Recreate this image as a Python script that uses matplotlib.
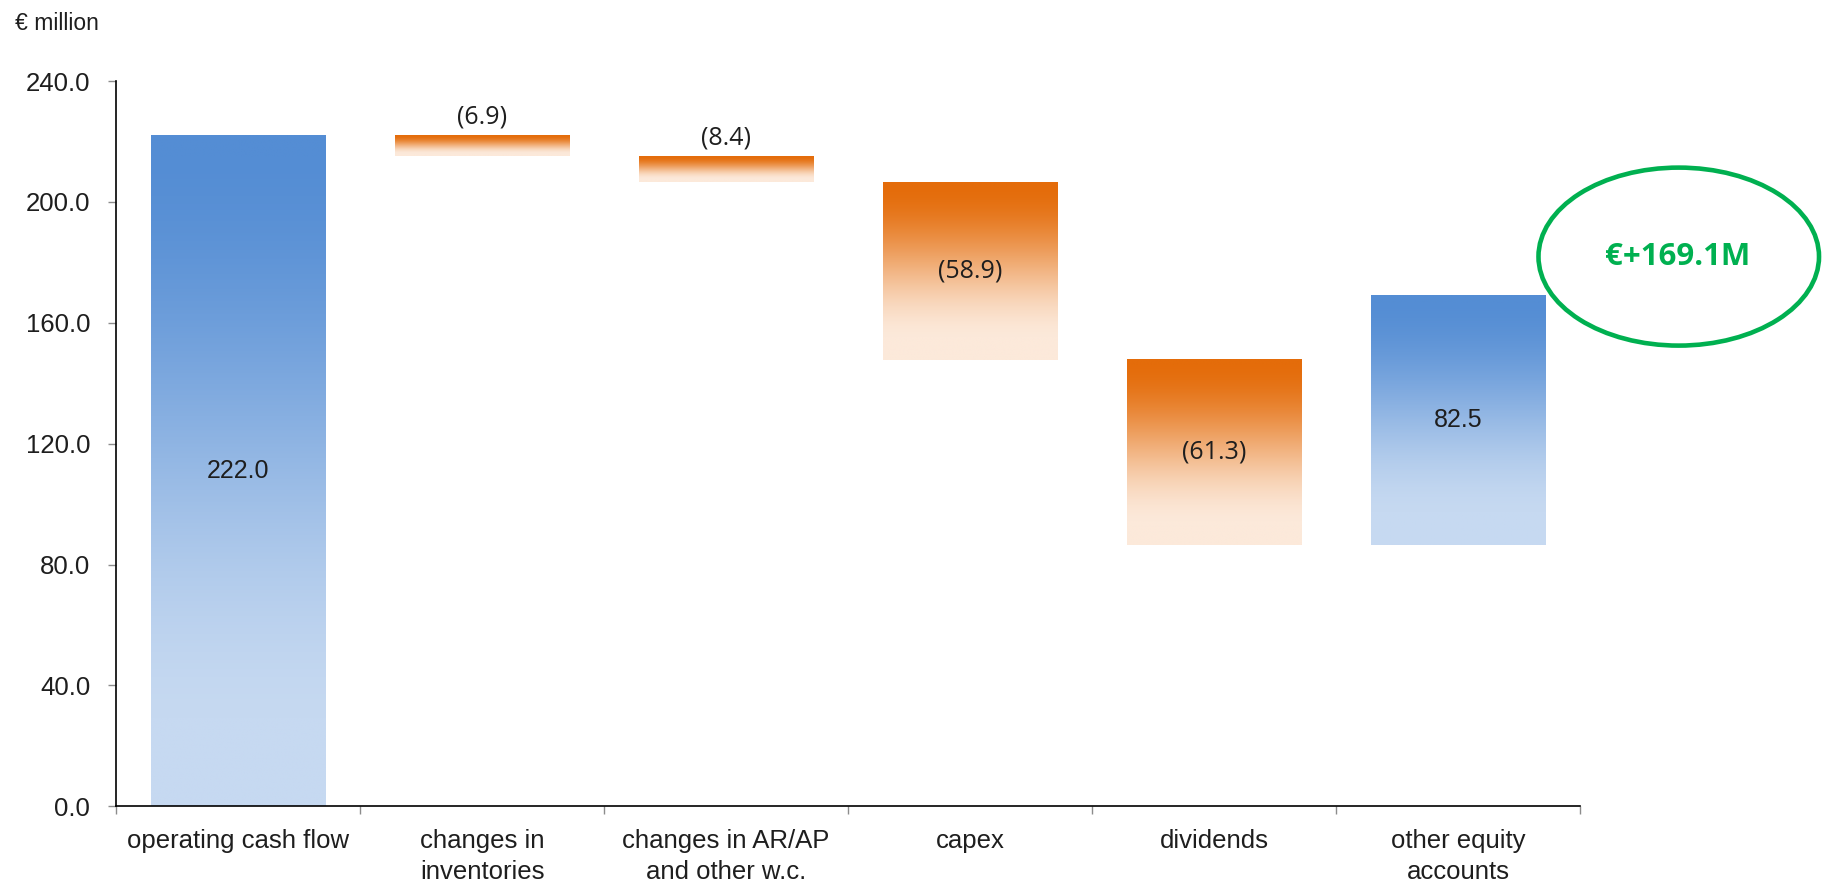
import numpy as np
import matplotlib
matplotlib.use("Agg")
import matplotlib.pyplot as plt
from matplotlib.colors import LinearSegmentedColormap
from matplotlib.patches import Ellipse

# cash flow bridge, € million
categories = [
    "operating cash flow",
    "changes in\ninventories",
    "changes in AR/AP\nand other w.c.",
    "capex",
    "dividends",
    "other equity\naccounts",
]
changes = [222.0, -6.9, -8.4, -58.9, -61.3, 82.5]
value_labels = ["222.0", "(6.9)", "(8.4)", "(58.9)", "(61.3)", "82.5"]
y_ticks = [0, 40, 80, 120, 160, 200, 240]
net_label = "€+169.1M"

AXIS_FONT = "Liberation Sans"
LABEL_FONT = "Open Sans"
TEXT_COLOR = "#1e1e1e"

blue_cmap = LinearSegmentedColormap.from_list("blue_grad", ["#c6d9f1", "#548dd4"])
orange_cmap = LinearSegmentedColormap.from_list("orange_grad", ["#fce9da", "#e46c0a"])


def gradient_column(n=256, stop=0.9):
    # smooth fade from dark (top) to light, reaching the light colour near the bottom
    frac = np.linspace(0, 1, n)
    t = np.clip(frac / stop, 0, 1)
    s = t * t * (3 - 2 * t)
    return (1 - s)[:, None]


def main():
    fig = plt.figure(figsize=(18.33, 8.86), dpi=100)
    ax = fig.add_axes([0.06345, 0.08995, 0.7985, 0.8186])

    # waterfall geometry: each bar spans from running total before to after
    ends = np.cumsum(changes)
    starts = ends - np.array(changes)
    bottoms = np.minimum(starts, ends)
    heights = np.abs(changes)
    x = np.arange(len(categories))

    bars = ax.bar(x, heights, bottom=bottoms, width=0.716, color="none", edgecolor="none")

    grad = gradient_column()
    for i, rect in enumerate(bars):
        # inflows -> blue, outflows -> orange
        inflow = changes[i] > 0
        cmap = blue_cmap if inflow else orange_cmap
        font = AXIS_FONT if inflow else LABEL_FONT
        x0 = rect.get_x()
        x1 = x0 + rect.get_width()
        y0 = rect.get_y()
        y1 = y0 + rect.get_height()
        ax.imshow(grad, cmap=cmap, extent=[x0, x1, y0, y1], aspect="auto",
                  interpolation="bilinear", vmin=0, vmax=1, zorder=2)

        if rect.get_height() < 15:
            ax.annotate(value_labels[i], (x0 + rect.get_width() / 2, y1),
                        xytext=(0, 4), textcoords="offset points",
                        ha="center", va="bottom", fontsize=18,
                        family=font, color=TEXT_COLOR, zorder=3)
        else:
            ax.text(x0 + rect.get_width() / 2, y0 + rect.get_height() / 2,
                    value_labels[i], ha="center", va="center", fontsize=18,
                    family=font, color=TEXT_COLOR, zorder=3)

    ax.set_xlim(-0.5, len(categories) - 0.5)
    ax.set_ylim(0, 240)

    ax.spines["top"].set_visible(False)
    ax.spines["right"].set_visible(False)
    ax.spines["left"].set_linewidth(1.2)
    ax.spines["bottom"].set_linewidth(1.2)

    ax.set_yticks(y_ticks)
    ax.set_yticklabels([f"{v:.1f}" for v in y_ticks], family=AXIS_FONT, fontsize=18.5,
                       color=TEXT_COLOR)
    ax.tick_params(axis="y", length=5.8, width=1, color="#8c8c8c", pad=13)

    ax.set_xticks(x)
    ax.set_xticklabels(categories, family=AXIS_FONT, fontsize=18.5, color=TEXT_COLOR,
                       linespacing=1.4)
    ax.set_xticks(np.arange(-0.5, len(categories), 1), minor=True)
    ax.tick_params(axis="x", which="major", length=0, pad=16)
    ax.tick_params(axis="x", which="minor", length=5.8, width=1, color="#8c8c8c")

    fig.text(15 / 1833, 1 - 30 / 886, "€ million", family=AXIS_FONT, fontsize=16.5,
             color=TEXT_COLOR, ha="left", va="baseline")

    # highlight for the net cash generated
    ell = Ellipse((5.905, 181.9), width=1.15, height=58.9, fill=False,
                  edgecolor="#00b050", linewidth=3.3, clip_on=False, zorder=4)
    ax.add_patch(ell)
    ax.text(5.9, 181.9, net_label, ha="center", va="center", fontsize=22.5,
            fontweight="bold", family=LABEL_FONT, color="#00b050", clip_on=False)

    fig.savefig("out.png", dpi=100)
    plt.close(fig)


if __name__ == "__main__":
    main()
